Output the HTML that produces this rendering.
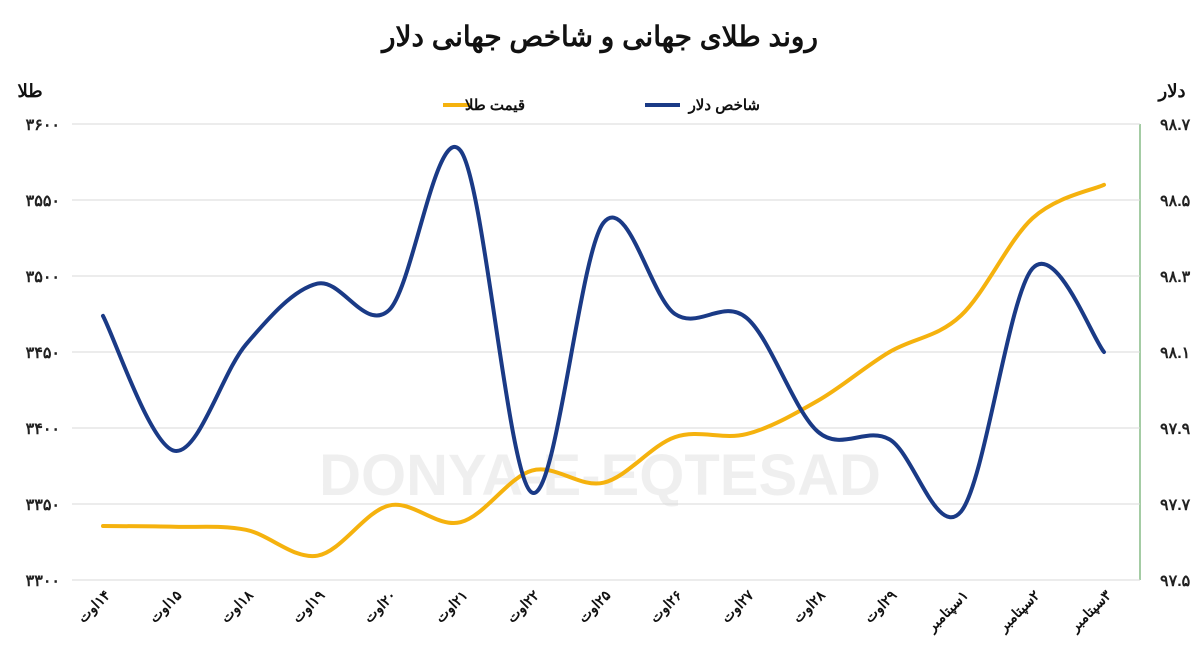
<!DOCTYPE html>
<html><head><meta charset="utf-8"><style>
body{margin:0;background:#fff;width:1200px;height:658px;overflow:hidden;font-family:"Liberation Sans","Noto Sans CJK SC",sans-serif}
</style></head><body>
<svg id="chart" width="1200" height="658" xmlns="http://www.w3.org/2000/svg" style="font-family:'Liberation Sans','Noto Sans CJK SC',sans-serif">
<text x="600" y="46" text-anchor="middle" font-size="28" font-weight="bold" fill="#111" direction="rtl">روند طلای جهانی و شاخص جهانی دلار</text>
<text x="600" y="495" text-anchor="middle" font-size="58" font-weight="bold" fill="#000" opacity="0.06">DONYA-E-EQTESAD</text>
<text x="30" y="97" text-anchor="middle" font-size="18" font-weight="bold" fill="#111">طلا</text>
<text x="1172" y="97" text-anchor="middle" font-size="18" font-weight="bold" fill="#111">دلار</text>
<g>
<line x1="443" y1="105" x2="470" y2="105" stroke="#f5b20e" stroke-width="4"/>
<text x="525" y="110" text-anchor="end" font-size="15" font-weight="bold" fill="#111">قیمت طلا</text>
<line x1="645" y1="105" x2="680" y2="105" stroke="#1a3a86" stroke-width="4"/>
<text x="760" y="110" text-anchor="end" font-size="15" font-weight="bold" fill="#111">شاخص دلار</text>
</g>
<line x1="1140" y1="124" x2="1140" y2="580" stroke="#4a9a4a" stroke-width="1"/>
<g id="grid"></g><g id="lines"></g><g id="labels"></g>
</svg>
<script>
const categories=["۱۴اوت","۱۵اوت","۱۸اوت","۱۹اوت","۲۰اوت","۲۱اوت","۲۲اوت","۲۵اوت","۲۶اوت","۲۷اوت","۲۸اوت","۲۹اوت","۱سپتامبر","۲سپتامبر","۳سپتامبر"];
const goldValues=[3335.5,3335,3333,3316,3349,3338,3372,3364,3394,3396,3418,3450,3474,3538,3560];
const dollarValues=[98.195,97.84,98.12,98.28,98.21,98.63,97.73,98.44,98.20,98.19,97.89,97.87,97.68,98.32,98.10];
const leftTicks=[3300,3350,3400,3450,3500,3550,3600];
const leftTickLabels=["۳۳۰۰","۳۳۵۰","۳۴۰۰","۳۴۵۰","۳۵۰۰","۳۵۵۰","۳۶۰۰"];
const rightTicks=[97.5,97.7,97.9,98.1,98.3,98.5,98.7];
const rightTickLabels=["۹۷.۵","۹۷.۷","۹۷.۹","۹۸.۱","۹۸.۳","۹۸.۵","۹۸.۷"];
const NS="http://www.w3.org/2000/svg";
const X0=103,X1=1104,TOP=124,BOT=580;
const xs=i=>X0+(X1-X0)*i/(categories.length-1);
const yL=v=>BOT-(v-3300)/300*(BOT-TOP);
const yR=v=>BOT-(v-97.5)/1.2*(BOT-TOP);
function mk(t,a,p){const e=document.createElementNS(NS,t);for(const k in a)e.setAttribute(k,a[k]);p.appendChild(e);return e;}
const grid=document.getElementById('grid'),lab=document.getElementById('labels'),lines=document.getElementById('lines');
leftTicks.forEach((v,i)=>{
 const y=yL(v);
 const g=mk('line',{x1:72,x2:1140,y1:y,y2:y,stroke:'#d9d9d9','stroke-width':1},grid);
 
 
 const t=mk('text',{x:60,y:y+6,'text-anchor':'end','font-size':16,'font-weight':'bold',fill:'#222'},lab);
 t.textContent=leftTickLabels[i];
 
 
});
rightTicks.forEach((v,i)=>{
 const y=yR(v);
 const t=mk('text',{x:1160,y:y+6,'text-anchor':'start','font-size':16,'font-weight':'bold',fill:'#222'},lab);
 t.textContent=rightTickLabels[i];
 
 
});
categories.forEach((c,i)=>{
 const x=xs(i)+8,y=596;
 const t=mk('text',{x:x,y:y,'text-anchor':'end','font-size':14,'font-weight':'bold',fill:'#111',transform:`rotate(-45 ${x} ${y})`},lab);
 t.textContent='\u200F'+c;
 
 
});
function path(vals,yf){
 const p=vals.map((v,i)=>[xs(i),yf(v)]);
 let d=`M${p[0][0]},${p[0][1]}`;
 for(let i=0;i<p.length-1;i++){
  const p0=p[Math.max(0,i-1)],p1=p[i],p2=p[i+1],p3=p[Math.min(p.length-1,i+2)];
  const c1=[p1[0]+(p2[0]-p0[0])/6,p1[1]+(p2[1]-p0[1])/6];
  const c2=[p2[0]-(p3[0]-p1[0])/6,p2[1]-(p3[1]-p1[1])/6];
  d+=` C${c1[0]},${c1[1]} ${c2[0]},${c2[1]} ${p2[0]},${p2[1]}`;
 }
 return d;
}
const gl=mk('path',{d:path(goldValues,yL),fill:'none',stroke:'#f5b20e','stroke-width':4,'stroke-linecap':'round'},lines);


const dl=mk('path',{d:path(dollarValues,yR),fill:'none',stroke:'#1a3a86','stroke-width':4,'stroke-linecap':'round'},lines);


</script>
</body></html>
